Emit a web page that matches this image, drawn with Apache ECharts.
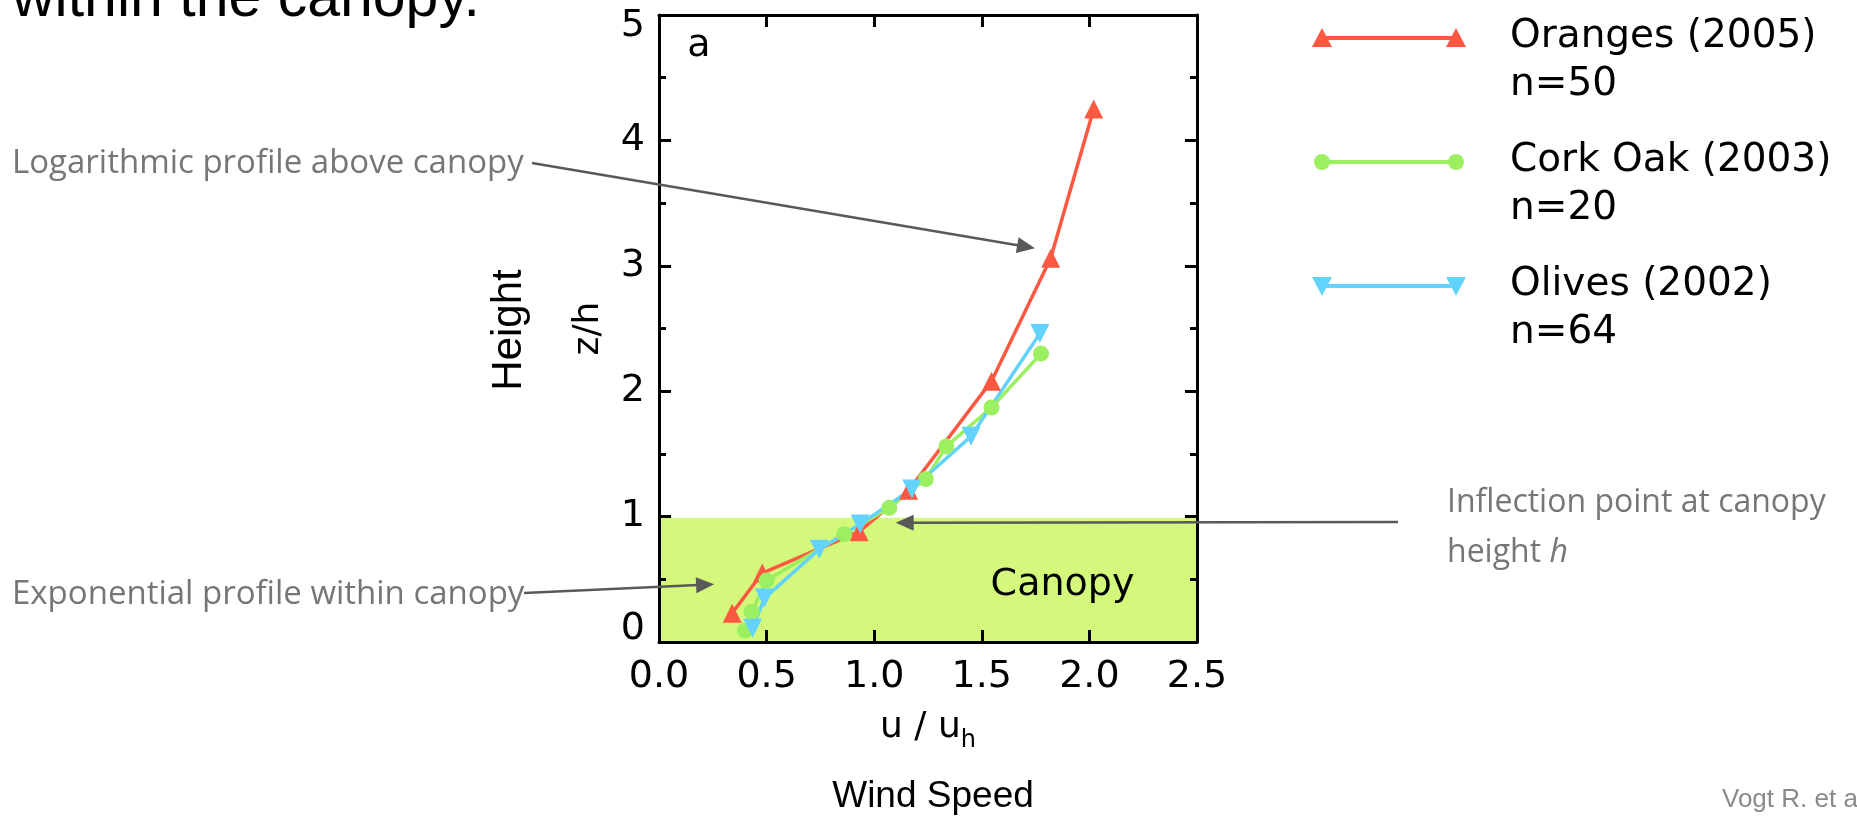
<!DOCTYPE html>
<html>
<head>
<meta charset="utf-8">
<script src="https://cdn.jsdelivr.net/npm/echarts@6/dist/echarts.min.js"></script>
<style>
html, body { margin: 0; padding: 0; background: #fff; }
#main { width: 1857px; height: 819px; }
</style>
</head>
<body>
<div id="main"></div>
<script>
// wind profiles, u/uh against z/h
var windOranges = [0.34, 0.48, 0.93, 1.16, 1.545, 1.82, 2.02];
var heightOranges = [0.23, 0.55, 0.88, 1.21, 2.08, 3.06, 4.25];
var windCorkOak = [0.40, 0.43, 0.50, 0.86, 1.07, 1.24, 1.335, 1.545, 1.775];
var heightCorkOak = [0.09, 0.24, 0.49, 0.86, 1.07, 1.30, 1.56, 1.87, 2.30];
var windOlives = [0.435, 0.49, 0.745, 0.935, 1.175, 1.45, 1.77];
var heightOlives = [0.11, 0.35, 0.74, 0.94, 1.22, 1.64, 2.46];

var seriesNames = ['Oranges (2005)', 'Cork Oak (2003)', 'Olives (2002)'];
var sampleSizes = ['n=50', 'n=20', 'n=64'];
var seriesColors = ['#fd5841', '#9cef61', '#63d2fc'];
var canopyTop = 0.99;

var myChart = echarts.init(document.getElementById('main'));

function zip(xs, ys) {
    return xs.map(function (x, i) { return [x, ys[i]]; });
}

var figFont = 'DejaVu Sans';
var noteColor = '#767676';
var arrowColor = '#595959';

function frameAxis(extra) {
    var base = {
        type: 'value',
        z: 10,
        splitLine: { show: false },
        axisLine: { show: true, onZero: false, lineStyle: { color: '#000', width: 3 } },
        axisTick: { show: true, inside: true, length: 12, lineStyle: { color: '#000', width: 3 } }
    };
    return Object.assign(base, extra);
}

var option = {
    animation: false,
    grid: { left: 659, top: 15, width: 538, height: 627 },
    xAxis: [
        frameAxis({
            position: 'bottom', min: 0, max: 2.5, interval: 0.5,
            axisLabel: {
                margin: 16, color: '#000', fontFamily: figFont, fontSize: 38,
                formatter: function (v) { return v.toFixed(1); }
            },
            name: 'u / u{s|h}',
            nameLocation: 'middle',
            nameGap: 61,
            nameTextStyle: {
                color: '#000', fontFamily: figFont, fontSize: 36,
                rich: { s: { fontFamily: figFont, fontSize: 24, color: '#000', verticalAlign: 'bottom', lineHeight: 18 } },
                lineHeight: 50
            }
        }),
        frameAxis({
            position: 'top', min: 0, max: 2.5, interval: 0.5,
            axisLabel: { show: false }
        })
    ],
    yAxis: [
        frameAxis({
            position: 'left', min: 0, max: 5, interval: 1,
            minorTick: { show: true, splitNumber: 2, length: 7, lineStyle: { color: '#000', width: 3 } },
            axisLabel: {
                margin: 14, color: '#000', fontFamily: figFont, fontSize: 38,
                formatter: function (v) {
                    if (v === 5) return '{t|5}';
                    if (v === 0) return '{b|0}';
                    return String(v);
                },
                rich: {
                    t: { fontFamily: figFont, fontSize: 38, color: '#000', padding: [22, 0, 0, 0] },
                    b: { fontFamily: figFont, fontSize: 38, color: '#000', padding: [0, 0, 26, 0] }
                }
            },
            name: 'z/h',
            nameLocation: 'middle',
            nameRotate: 90,
            nameGap: 52,
            nameTextStyle: { color: '#000', fontFamily: figFont, fontSize: 36 }
        }),
        frameAxis({
            position: 'right', min: 0, max: 5, interval: 1,
            minorTick: { show: true, splitNumber: 2, length: 7, lineStyle: { color: '#000', width: 3 } },
            axisLabel: { show: false }
        })
    ],
    series: [
        {
            name: seriesNames[0],
            type: 'line',
            data: zip(windOranges, heightOranges),
            symbol: 'triangle',
            symbolSize: 19,
            lineStyle: { width: 3.5, color: seriesColors[0] },
            itemStyle: { color: seriesColors[0] },
            markArea: {
                silent: true,
                itemStyle: { color: '#d3f87b' },
                label: {
                    show: true, position: ['75%', '54%'], align: 'center', verticalAlign: 'middle',
                    fontFamily: figFont, fontSize: 38, color: '#000'
                },
                data: [[{ name: 'Canopy', xAxis: -0.03, yAxis: 0 }, { xAxis: 2.5, yAxis: canopyTop }]]
            }
        },
        {
            name: seriesNames[1],
            type: 'line',
            data: zip(windCorkOak, heightCorkOak),
            symbol: 'circle',
            symbolSize: 16,
            lineStyle: { width: 3.5, color: seriesColors[1] },
            itemStyle: { color: seriesColors[1] }
        },
        {
            name: seriesNames[2],
            type: 'line',
            data: zip(windOlives, heightOlives),
            symbol: 'triangle',
            symbolRotate: 180,
            symbolSize: 19,
            lineStyle: { width: 3.5, color: seriesColors[2] },
            itemStyle: { color: seriesColors[2] }
        }
    ]
};
myChart.setOption(option);

// arrow from a pixel start to a tip given in data units
function arrow(start, tipData) {
    var p1 = myChart.convertToPixel({ seriesIndex: 0 }, tipData);
    var dx = p1[0] - start[0], dy = p1[1] - start[1];
    var len = Math.sqrt(dx * dx + dy * dy);
    var ux = dx / len, uy = dy / len;
    var hl = 18, hw = 8;
    var bx = p1[0] - ux * hl, by = p1[1] - uy * hl;
    return [
        { type: 'line', z: 100, shape: { x1: start[0], y1: start[1], x2: bx + ux * 2, y2: by + uy * 2 },
          style: { stroke: arrowColor, lineWidth: 2.5 } },
        { type: 'polygon', z: 100, shape: { points: [p1, [bx - uy * hw, by + ux * hw], [bx + uy * hw, by - ux * hw]] },
          style: { fill: arrowColor } }
    ];
}

function legendItem(i, marker) {
    var y = 38 + i * 124;
    var x0 = 1322, x1 = 1456;
    var els = [
        { type: 'line', shape: { x1: x0, y1: y, x2: x1, y2: y }, style: { stroke: seriesColors[i], lineWidth: 4 } }
    ];
    [x0, x1].forEach(function (cx) {
        if (marker === 'up') {
            els.push({ type: 'polygon', shape: { points: [[cx, y - 10], [cx - 10, y + 9], [cx + 10, y + 9]] }, style: { fill: seriesColors[i] } });
        } else if (marker === 'down') {
            els.push({ type: 'polygon', shape: { points: [[cx, y + 10], [cx - 10, y - 9], [cx + 10, y - 9]] }, style: { fill: seriesColors[i] } });
        } else {
            els.push({ type: 'circle', shape: { cx: cx, cy: y, r: 8 }, style: { fill: seriesColors[i] } });
        }
    });
    els.push({ type: 'text', x: 1510, y: y - 1, style: { text: seriesNames[i], font: '39px "DejaVu Sans"', fill: '#000', verticalAlign: 'middle' } });
    els.push({ type: 'text', x: 1510, y: y + 47, style: { text: sampleSizes[i], font: '39px "DejaVu Sans"', fill: '#000', verticalAlign: 'middle' } });
    return els;
}

var graphics = [
    { type: 'text', x: 12, y: 0, style: { text: 'within the canopy.', font: '59px "Liberation Sans"', fill: '#000', verticalAlign: 'middle' } },
    { type: 'text', x: 699, y: 46, z: 20, style: { text: 'a', font: '38px "DejaVu Sans"', fill: '#000', align: 'center', verticalAlign: 'middle' } },
    { type: 'text', x: 509, y: 330, rotation: Math.PI / 2, style: { text: 'Height', font: '42px "Liberation Sans"', fill: '#000', align: 'center', verticalAlign: 'middle' } },
    { type: 'text', x: 933, y: 797, style: { text: 'Wind Speed', font: '37px "Liberation Sans"', fill: '#000', align: 'center', verticalAlign: 'middle' } },
    { type: 'text', x: 1722, y: 800, style: { text: 'Vogt R. et al.', font: '26px "Liberation Sans"', fill: '#8a8a8a', verticalAlign: 'middle' } },
    { type: 'text', x: 12, y: 164, style: { text: 'Logarithmic profile above canopy', font: '33px "Open Sans"', fill: noteColor, verticalAlign: 'middle' } },
    { type: 'text', x: 12, y: 595, style: { text: 'Exponential profile within canopy', font: '33px "Open Sans"', fill: noteColor, verticalAlign: 'middle' } },
    {
        type: 'text', x: 1447, y: 478,
        style: {
            text: 'Inflection point at canopy\nheight {i|h}', font: '32px "Open Sans"', fill: noteColor,
            verticalAlign: 'top', lineHeight: 50,
            rich: { i: { fontFamily: 'Open Sans', fontSize: 32, fontStyle: 'italic', fill: noteColor, lineHeight: 50 } }
        }
    }
];
graphics = graphics.concat(arrow([532, 163], [1.747, 3.14]));
graphics = graphics.concat(arrow([524, 593], [0.256, 0.46]));
graphics = graphics.concat(arrow([1398, 522], [1.10, 0.95]));
graphics = graphics.concat(legendItem(0, 'up'), legendItem(1, 'circle'), legendItem(2, 'down'));

myChart.setOption({ graphic: graphics });
</script>
</body>
</html>
